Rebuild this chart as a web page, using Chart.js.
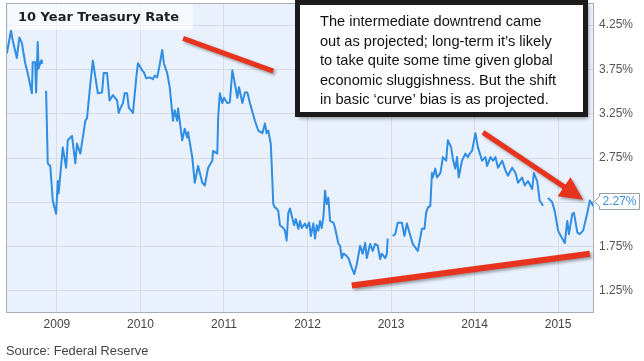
<!DOCTYPE html>
<html>
<head>
<meta charset="utf-8">
<script src="https://cdn.jsdelivr.net/npm/chart.js@4.4.1/dist/chart.umd.min.js"></script>
<style>
  html, body { margin: 0; padding: 0; background: #fff; }
  #wrap { width: 644px; height: 361px; }
</style>
</head>
<body>
<div id="wrap"><canvas id="rateChart" width="644" height="361"></canvas></div>
<script>
// weekly-ish readings of the 10 year rate (null = gap in the feed)
const dates = [
  2008.40,2008.45,2008.47,2008.52,2008.55,2008.58,2008.62,2008.65,2008.70,2008.71,2008.74,2008.75,2008.77,2008.78,2008.81,2008.82,2008.84,2008.87,2008.89,2008.92,2008.95,2008.99,
  2009.01,2009.02,2009.07,2009.11,2009.13,2009.18,2009.22,2009.24,2009.28,2009.34,2009.36,2009.40,2009.43,2009.46,2009.49,2009.54,2009.56,2009.60,2009.63,2009.67,2009.72,2009.74,2009.75,2009.79,2009.81,2009.84,2009.86,2009.91,2009.95,2009.97,
  2010.02,2010.04,2010.07,2010.11,2010.15,2010.17,2010.20,2010.23,2010.26,2010.28,2010.32,2010.35,2010.39,2010.41,2010.44,2010.45,2010.50,2010.53,2010.56,2010.57,2010.62,2010.65,2010.69,2010.74,2010.77,2010.81,2010.86,2010.87,2010.92,2010.93,2010.95,2010.98,
  2011.00,2011.04,2011.07,2011.10,2011.13,2011.16,2011.18,2011.22,2011.25,2011.28,2011.31,2011.37,2011.41,2011.46,2011.49,2011.51,2011.53,2011.56,2011.57,2011.59,2011.61,2011.63,2011.65,2011.67,2011.71,2011.73,2011.75,2011.77,2011.79,2011.81,2011.84,2011.86,2011.89,2011.91,2011.93,2011.97,2011.99,
  2012.02,2012.04,2012.07,2012.09,2012.11,2012.13,2012.15,2012.17,2012.19,2012.21,2012.23,2012.25,2012.27,2012.31,2012.33,2012.37,2012.39,2012.41,2012.43,2012.46,2012.49,2012.53,2012.56,2012.59,2012.63,2012.66,2012.69,2012.71,2012.75,2012.78,2012.81,2012.84,2012.87,2012.89,2012.93,2012.95,2012.96,2012.99,
  2013.02,2013.05,2013.08,2013.13,2013.16,2013.19,2013.22,2013.26,2013.32,2013.37,2013.40,2013.42,2013.44,2013.47,2013.49,2013.50,2013.53,2013.55,2013.59,2013.61,2013.62,2013.66,2013.68,2013.72,2013.74,2013.77,2013.79,2013.81,2013.85,2013.89,2013.92,2013.95,2013.97,
  2014.01,2014.04,2014.09,2014.13,2014.15,2014.19,2014.22,2014.25,2014.28,2014.33,2014.37,2014.40,2014.45,2014.49,2014.52,2014.57,2014.60,2014.64,2014.69,2014.71,2014.75,2014.78,2014.82,2014.84,2014.88,2014.93,2014.96,
  2015.00,2015.05,2015.08,2015.11,2015.13,2015.17,2015.19,2015.23,2015.26,2015.30,2015.35,2015.38,2015.42,2015.43
];
const rates = [
  3.93,4.19,4.08,3.88,4.11,4.05,3.82,3.71,3.48,3.83,3.83,3.49,4.06,3.76,3.85,3.82,null,3.51,2.69,2.66,2.27,2.12,
  2.49,2.35,2.87,2.64,2.95,3.00,2.69,2.91,2.80,3.17,3.20,3.59,3.85,3.66,3.48,3.49,3.71,3.71,3.40,3.46,3.40,3.26,3.29,3.37,3.48,3.48,3.32,3.26,3.66,3.82,
  3.74,3.72,3.65,3.66,3.64,3.68,3.66,3.80,3.97,3.82,3.71,3.55,3.17,3.29,3.17,3.31,2.95,3.08,2.98,3.04,2.76,2.47,2.66,2.47,2.44,2.64,2.72,2.83,2.80,3.21,3.48,3.37,
  3.43,3.37,3.38,3.74,3.59,3.43,3.55,3.37,3.49,3.49,3.37,3.17,3.06,3.03,3.14,3.03,3.06,2.91,2.70,2.23,2.19,2.18,2.15,1.99,1.96,1.93,1.82,2.13,2.18,2.10,1.99,2.06,1.95,2.04,1.96,2.01,1.96,
  2.02,1.87,2.01,1.84,1.99,1.93,2.04,1.96,2.08,2.38,2.23,2.30,2.04,2.02,1.96,1.78,1.76,1.62,1.67,1.65,1.62,1.51,1.44,1.55,1.76,1.67,1.79,1.62,1.78,1.70,1.78,1.76,1.61,1.67,1.62,1.67,1.84,null,
  1.87,1.89,2.02,2.02,1.87,2.01,1.91,1.78,1.70,1.95,1.95,2.13,2.19,2.21,2.58,2.53,2.63,2.53,2.58,2.69,2.76,2.72,2.95,2.87,2.74,2.63,2.76,2.53,2.72,2.80,2.76,2.81,2.83,
  3.03,2.87,2.72,2.76,2.66,2.76,2.72,2.76,2.64,2.72,2.61,2.55,2.64,2.58,2.47,2.53,2.44,2.49,2.40,2.58,2.49,2.27,2.21,null,2.30,2.25,2.15,
  1.93,1.84,1.79,2.04,1.89,2.12,2.13,1.91,1.89,1.93,2.13,2.27,2.21,2.27
];
const yearTicks = [2009, 2010, 2011, 2012, 2013, 2014, 2015];
const rateTicks = [1.25, 1.75, 2.25, 2.75, 3.25, 3.75, 4.25];
const lastRate = 2.27;

const titleText = '10 Year Treasury Rate';
const sourceText = 'Source: Federal Reserve';
const noteLines = [
  'The intermediate downtrend came',
  'out as projected; long-term it\u2019s likely',
  'to take quite some time given global',
  'economic sluggishness. But the shift',
  'in basic \u2018curve\u2019 bias is as projected.'
];

// red pen marks, given in (year, rate) so they follow the scales
const topStroke = [[2010.51, 4.10], [2011.59, 3.73]];
const baseStroke = [[2012.53, 1.31], [2015.38, 1.67]];
const arrowStroke = [[2014.10, 3.04], [2015.30, 2.28]];

const points = dates.map((d, i) => ({ x: d, y: rates[i] }));
const baseFont = '"Liberation Sans", Arial, sans-serif';

const decor = {
    id: 'decor',
    beforeDraw(chart) {
        const { ctx, chartArea: a } = chart;
        ctx.save();
        ctx.fillStyle = '#e9f1fc';
        ctx.fillRect(a.left, a.top, a.right - a.left, a.bottom - a.top);
        ctx.restore();
    },
    afterDraw(chart) {
        const { ctx, chartArea: a, scales } = chart;
        const px = p => [scales.x.getPixelForValue(p[0]), scales.y.getPixelForValue(p[1])];
        ctx.save();

        // plot frame
        ctx.strokeStyle = '#a8aeb6';
        ctx.lineWidth = 1;
        ctx.strokeRect(a.left + 0.5, a.top + 0.5, a.right - a.left - 1, a.bottom - a.top - 1);

        // title box
        ctx.fillStyle = 'rgba(255,255,255,0.6)';
        ctx.fillRect(8, 4, 185, 26);
        ctx.fillStyle = '#1e1e1e';
        ctx.font = 'bold 13px "DejaVu Sans", Verdana, sans-serif';
        ctx.textBaseline = 'middle';
        ctx.fillText(titleText, 18, 17.5);

        // red strokes
        ctx.shadowColor = 'rgba(0,0,0,0.35)';
        ctx.shadowOffsetX = 2;
        ctx.shadowOffsetY = 2;
        ctx.shadowBlur = 3;
        ctx.strokeStyle = '#e8341f';
        ctx.fillStyle = '#e8341f';
        ctx.lineCap = 'butt';
        [[topStroke, 5], [baseStroke, 6]].forEach(([s, w]) => {
            const p0 = px(s[0]), p1 = px(s[1]);
            ctx.lineWidth = w;
            ctx.beginPath();
            ctx.moveTo(p0[0], p0[1]);
            ctx.lineTo(p1[0], p1[1]);
            ctx.stroke();
        });
        // arrow
        const a0 = px(arrowStroke[0]), a1 = px(arrowStroke[1]);
        const dx = a1[0] - a0[0], dy = a1[1] - a0[1];
        const len = Math.hypot(dx, dy), ux = dx / len, uy = dy / len;
        const headL = 23, headW = 11.5;
        const bx = a1[0] - ux * headL, by = a1[1] - uy * headL;
        ctx.lineWidth = 5;
        ctx.beginPath();
        ctx.moveTo(a0[0], a0[1]);
        ctx.lineTo(bx + ux * 2, by + uy * 2);
        ctx.stroke();
        ctx.beginPath();
        ctx.moveTo(a1[0], a1[1]);
        ctx.lineTo(bx - uy * headW, by + ux * headW);
        ctx.lineTo(bx + uy * headW, by - ux * headW);
        ctx.closePath();
        ctx.fill();

        // note box
        ctx.shadowColor = 'rgba(0,0,0,0.45)';
        ctx.shadowOffsetX = 2;
        ctx.shadowOffsetY = 3;
        ctx.shadowBlur = 4;
        ctx.fillStyle = '#fff';
        ctx.fillRect(297, 2, 289, 113);
        ctx.shadowColor = 'transparent';
        ctx.strokeStyle = '#1c1c1c';
        ctx.lineWidth = 5;
        ctx.strokeRect(297.5, 2.5, 288, 112);
        ctx.fillStyle = '#111';
        ctx.font = '14.6px ' + baseFont;
        ctx.textBaseline = 'middle';
        noteLines.forEach((t, i) => ctx.fillText(t, 320, 22 + i * 19.5));

        // last value callout on the right axis
        const cy = Math.round(scales.y.getPixelForValue(lastRate)) + 0.5;
        const cx = a.right + 5.5;
        ctx.fillStyle = '#fff';
        ctx.strokeStyle = '#9aa0a8';
        ctx.lineWidth = 1;
        ctx.beginPath();
        ctx.moveTo(cx - 5, cy);
        ctx.lineTo(cx, cy - 5);
        ctx.lineTo(cx, cy - 8);
        ctx.lineTo(cx + 40, cy - 8);
        ctx.lineTo(cx + 40, cy + 8);
        ctx.lineTo(cx, cy + 8);
        ctx.lineTo(cx, cy + 5);
        ctx.closePath();
        ctx.fill();
        ctx.stroke();
        ctx.fillStyle = '#3d8fdc';
        ctx.font = '12px ' + baseFont;
        ctx.fillText(lastRate.toFixed(2) + '%', cx + 3, cy + 0.5);

        // source line
        ctx.fillStyle = '#444';
        ctx.font = '12.8px ' + baseFont;
        ctx.fillText(sourceText, 6, 351);
        ctx.restore();
    }
};

// keep the axes from reserving half-label room at the plot edges
const noEdgePad = s => {
    s.paddingTop = 0; s.paddingBottom = 0;
    s.paddingLeft = 0; s.paddingRight = 0;
};

new Chart(document.getElementById('rateChart'), {
    type: 'line',
    data: {
        datasets: [{
            data: points,
            borderColor: '#2f8de4',
            borderWidth: 2,
            pointRadius: 0,
            tension: 0,
            spanGaps: false,
            borderJoinStyle: 'round'
        }]
    },
    options: {
        responsive: false,
        animation: false,
        devicePixelRatio: 1,
        layout: { padding: { left: 6, top: 3, right: 0, bottom: 0 } },
        plugins: { legend: { display: false }, tooltip: { enabled: false } },
        scales: {
            x: {
                type: 'linear',
                min: 2008.39,
                max: 2015.43,
                afterBuildTicks: s => { s.ticks = yearTicks.map(v => ({ value: v })); },
                afterFit: s => { s.height = 48; noEdgePad(s); },
                grid: { color: '#d8dde5', drawTicks: false },
                border: { display: false },
                ticks: {
                    autoSkip: false,
                    maxRotation: 0,
                    padding: 4,
                    color: '#444',
                    font: { family: baseFont, size: 12 },
                    callback: v => String(v)
                }
            },
            y: {
                position: 'right',
                min: 1.0,
                max: 4.5,
                afterBuildTicks: s => { s.ticks = rateTicks.map(v => ({ value: v })); },
                afterFit: s => { s.width = 50; noEdgePad(s); },
                grid: { color: '#d8dde5', drawTicks: false },
                border: { display: false },
                ticks: {
                    autoSkip: false,
                    padding: 5,
                    color: '#555',
                    font: { family: baseFont, size: 12 },
                    callback: v => (v === 2.25 ? '' : v.toFixed(2) + '%')
                }
            }
        }
    },
    plugins: [decor]
});
</script>
</body>
</html>
